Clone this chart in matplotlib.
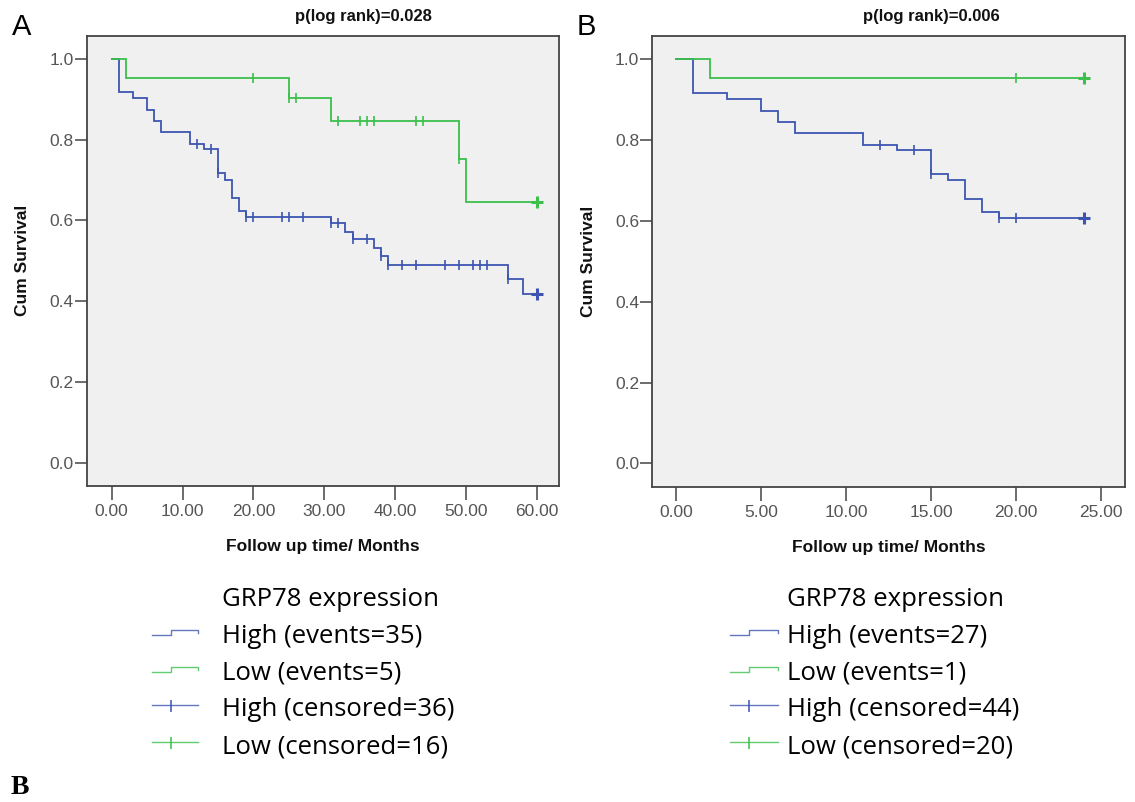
import numpy as np
import matplotlib
matplotlib.use("Agg")
import matplotlib.pyplot as plt
from matplotlib.lines import Line2D

# ---------------- data ----------------
# Panel A (60 months follow-up)
a_high_t = [0, 1, 3, 5, 6, 7, 11, 13, 15, 16, 17, 18, 19, 31, 33, 34, 37, 38, 39, 56, 58]
a_high_s = [1.0, 0.917, 0.902, 0.873, 0.847, 0.818, 0.788, 0.776, 0.716, 0.701, 0.654,
            0.623, 0.609, 0.593, 0.572, 0.553, 0.532, 0.512, 0.489, 0.455, 0.417]
a_high_cens = [12, 14, 15, 19, 20, 24, 25, 27, 31, 32, 34, 36, 38, 39, 41, 43, 47, 49,
               51, 52, 53, 56]
a_low_t = [0, 2, 25, 31, 49, 50]
a_low_s = [1.0, 0.953, 0.902, 0.847, 0.752, 0.645]
a_low_cens = [20, 25, 26, 32, 35, 36, 37, 43, 44, 49]
a_end = 60

# Panel B (24 months follow-up)
b_high_t = [0, 1, 3, 5, 6, 7, 11, 13, 15, 16, 17, 18, 19]
b_high_s = [1.0, 0.915, 0.900, 0.872, 0.845, 0.817, 0.788, 0.774, 0.716, 0.701, 0.655,
            0.623, 0.608]
b_high_cens = [12, 14, 15, 19, 20]
b_low_t = [0, 2]
b_low_s = [1.0, 0.953]
b_low_cens = [20]
b_end = 24

a_xticks = [0, 10, 20, 30, 40, 50, 60]
b_xticks = [0, 5, 10, 15, 20, 25]
yticks = [0.0, 0.2, 0.4, 0.6, 0.8, 1.0]

a_title = "p(log rank)=0.028"
b_title = "p(log rank)=0.006"
a_legend = ["High (events=35)", "Low (events=5)", "High (censored=36)", "Low (censored=16)"]
b_legend = ["High (events=27)", "Low (events=1)", "High (censored=44)", "Low (censored=20)"]

BLUE = "#3d55b0"
GREEN = "#3cbf4c"
W, H = 1135, 802


def fx(x):
    return x / W


def fy(y):
    return 1 - y / H


fig = plt.figure(figsize=(W / 100, H / 100), dpi=100)
fig.patch.set_facecolor("white")

TICKFONT = ["Liberation Sans", "DejaVu Sans"]


def surv_at(t_arr, s_arr, t):
    idx = np.searchsorted(np.asarray(t_arr), t, side="right") - 1
    return np.asarray(s_arr)[idx]


def draw_curve(ax, t, s, cens, end, color):
    tt = list(t) + [end]
    ss = list(s) + [s[-1]]
    ax.step(tt, ss, where="post", color=color, lw=1.3, zorder=3, solid_joinstyle="miter")
    cy = [surv_at(t, s, c) for c in cens]
    ax.plot(cens, cy, ls="none", marker="|", ms=7, mew=1.2, color=color, zorder=4)
    ax.plot([end], [surv_at(t, s, end)], ls="none", marker="+", ms=9, mew=2.2,
            color=color, zorder=4)


def setup_axes(rect, xlim, xticks):
    ax = fig.add_axes(rect)
    ax.set_facecolor("#f0f0f0")
    for sp in ax.spines.values():
        sp.set_color("#444444")
        sp.set_linewidth(1.3)
    ax.set_xlim(*xlim)
    ax.set_ylim(-0.057, 1.057)
    ax.set_xticks(xticks)
    ax.set_xticklabels(["%.2f" % v for v in xticks])
    ax.set_yticks(yticks)
    ax.set_yticklabels(["%.1f" % v for v in yticks])
    ax.tick_params(axis="x", direction="out", length=10, width=1.1, color="#444444",
                   pad=3.5, labelsize=12.5, labelcolor="#555555")
    ax.tick_params(axis="y", direction="out", length=8.5, width=1.1, color="#444444",
                   pad=1, labelsize=12.5, labelcolor="#555555")
    for lab in ax.get_xticklabels() + ax.get_yticklabels():
        lab.set_family(TICKFONT)
    ax.set_xlabel("Follow up time/ Months", fontsize=12.5, fontweight="bold",
                  family=TICKFONT, color="#111111", va="center")
    ax.xaxis.set_label_coords(0.5, -0.1356)
    ax.set_ylabel("Cum Survival", fontsize=12.5, fontweight="bold", family=TICKFONT,
                  color="#111111", va="center")
    ax.yaxis.set_label_coords(-0.1356, 0.5)
    return ax


# Panel A
axA = setup_axes([fx(87), fy(485.7), fx(559 - 87), (485.7 - 35.7) / H],
                 (-3.49, 63.15), a_xticks)
draw_curve(axA, a_high_t, a_high_s, a_high_cens, a_end, BLUE)
draw_curve(axA, a_low_t, a_low_s, a_low_cens, a_end, GREEN)

# Panel B
axB = setup_axes([fx(652.3), fy(486.5), fx(1125 - 652.3), (486.5 - 36) / H],
                 (-1.39, 26.4), b_xticks)
draw_curve(axB, b_high_t, b_high_s, b_high_cens, b_end, BLUE)
draw_curve(axB, b_low_t, b_low_s, b_low_cens, b_end, GREEN)

# titles
fig.text(fx(363), fy(17), a_title, ha="center", va="center", fontsize=12,
         fontweight="bold", family=TICKFONT, color="#111111")
fig.text(fx(931), fy(17), b_title, ha="center", va="center", fontsize=12,
         fontweight="bold", family=TICKFONT, color="#111111")

# panel letters
fig.text(fx(12), fy(27), "A", ha="left", va="center", fontsize=21, family=TICKFONT,
         color="black")
fig.text(fx(577), fy(27), "B", ha="left", va="center", fontsize=21, family=TICKFONT,
         color="black")
fig.text(fx(11), fy(787.5), "B", ha="left", va="center", fontsize=20, fontweight="bold",
         family=["Liberation Serif", "DejaVu Serif"], color="black")

# legends
LEGFONT = ["Open Sans", "DejaVu Sans"]
LEGSIZE = 18.5


def draw_legend(x0, x_step, x1, x_text, labels):
    fig.text(fx(x_text), fy(599.3), "GRP78 expression", ha="left", va="center",
             fontsize=LEGSIZE, family=LEGFONT, color="black")
    rows = [636.7, 673.0, 710.0, 746.7]
    colors = [BLUE, GREEN, BLUE, GREEN]
    for i, (lab, yc, col) in enumerate(zip(labels, rows, colors)):
        fig.text(fx(x_text), fy(yc), lab, ha="left", va="center", fontsize=LEGSIZE,
                 family=LEGFONT, color="black")
        if i < 2:
            ylo, yhi = yc - 1.5, yc - 6.5
            xs = [x0, x_step, x_step, x1, x1]
            ys = [ylo, ylo, yhi, yhi, yhi + 3]
            fig.add_artist(Line2D([fx(v) for v in xs], [fy(v) for v in ys],
                                  transform=fig.transFigure, color=col, lw=1.0, alpha=0.8))
        else:
            yl = yc - 5
            fig.add_artist(Line2D([fx(x0), fx(x1)], [fy(yl), fy(yl)],
                                  transform=fig.transFigure, color=col, lw=1.0, alpha=0.8))
            fig.add_artist(Line2D([fx(x_step), fx(x_step)], [fy(yl - 4), fy(yl + 6)],
                                  transform=fig.transFigure, color=col, lw=1.4, alpha=0.8))


draw_legend(151.7, 170.5, 198.3, 221.7, a_legend)
draw_legend(730.0, 749.3, 778.3, 787.3, b_legend)

fig.savefig("out.png", dpi=100, facecolor="white")
